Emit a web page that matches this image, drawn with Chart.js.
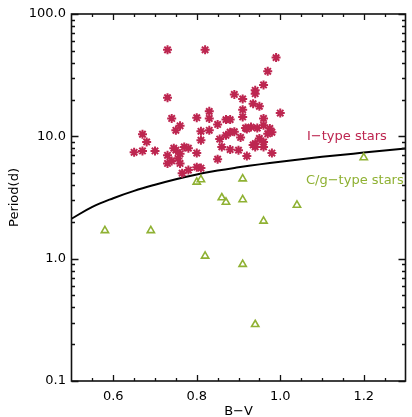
<!DOCTYPE html>
<html>
<head>
<meta charset="utf-8">
<script src="https://cdn.jsdelivr.net/npm/chart.js@4"></script>
<style>
  html, body { margin: 0; padding: 0; background: #fff; }
  #wrap { width: 412px; height: 417px; position: relative; }
</style>
</head>
<body>
<div id="wrap"><canvas id="chart"></canvas></div>
<script>
/* ---------- data ---------- */
// I-type stars (B-V, period in days)
const iTypeBV = [0.73, 0.82, 0.99, 0.97, 0.73, 0.89, 0.91, 0.96, 0.94, 0.94, 0.935, 0.95, 1.0, 0.91,
  0.83, 0.83, 0.80, 0.74, 0.76, 0.75, 0.85, 0.87, 0.88, 0.81, 0.83, 0.91, 0.93, 0.92, 0.945, 0.96,
  0.96, 0.975, 0.98, 0.97, 0.88, 0.89, 0.87, 0.855, 0.95, 0.94, 0.96, 0.935, 0.81, 0.67, 0.68, 0.65,
  0.67, 0.70, 0.73, 0.73, 0.75, 0.76, 0.755, 0.76, 0.77, 0.765, 0.78, 0.80, 0.80, 0.81, 0.85, 0.86,
  0.88, 0.90, 0.92, 0.98, 0.94, 0.96, 0.78, 0.745, 0.74, 0.905, 0.917];
const iTypeP = [51, 51, 44, 34, 20.7, 22, 20.2, 26.3, 23.8, 22.3, 18.5, 17.6, 15.5, 16.5,
  16.0, 14.0, 14.2, 14, 12.2, 11.2, 12.5, 13.7, 13.7, 11.0, 11.2, 14.4, 11.9, 11.5, 11.7, 14.0,
  12.3, 11.6, 10.8, 10.5, 10.8, 10.9, 10.2, 9.5, 9.6, 8.7, 9.0, 8.5, 9.3, 10.4, 9.0, 7.4,
  7.6, 7.6, 7.0, 6.0, 7.7, 7.2, 6.6, 6.0, 8.2, 5.0, 5.3, 7.3, 5.6, 5.5, 6.5, 8.2,
  7.8, 7.7, 6.9, 7.3, 8.2, 8.2, 8.0, 8.0, 6.3, 9.8, 11.7];

// C/g-type stars
const cgTypeBV = [0.58, 0.69, 0.80, 0.81, 0.82, 0.86, 0.87, 0.91, 0.91, 0.91, 0.94, 0.96, 1.04, 1.20];
const cgTypeP  = [1.70, 1.70, 4.23, 4.43, 1.05, 3.15, 2.90, 4.50, 3.04, 0.90, 0.29, 2.03, 2.74, 6.70];

// dividing curve
const curveBV = [0.50, 0.55, 0.60, 0.65, 0.70, 0.75, 0.80, 0.85, 0.90, 0.95, 1.00, 1.05, 1.10, 1.15, 1.20, 1.25, 1.30];
const curveP  = [2.12, 2.65, 3.12, 3.58, 4.02, 4.46, 4.88, 5.25, 5.58, 5.90, 6.20, 6.50, 6.80, 7.08, 7.36, 7.65, 7.95];

// axis ticks
const xMajorTicks = [0.6, 0.8, 1.0, 1.2];
const yMajorTicks = [0.1, 1, 10, 100];
const yTickLabels = ['0.1', '1.0', '10.0', '100.0'];

const RED = '#bd2650';
const GREEN = '#8fb133';
const FONT = "'DejaVu Sans', sans-serif";

const pts = (xs, ys) => xs.map((x, i) => ({ x: x, y: ys[i] }));

/* ---------- inward ticks, frame and in-plot labels ---------- */
const idlFrame = {
  id: 'idlFrame',
  afterDatasetsDraw(chart) {
    const { ctx, chartArea: a, scales: { x, y } } = chart;
    ctx.save();
    ctx.strokeStyle = '#111';
    ctx.lineWidth = 1.3;
    ctx.beginPath();
    // x ticks, bottom and top
    for (let k = 11; k <= 25; k++) {
      const v = k * 0.05;
      const major = xMajorTicks.some(t => Math.abs(t - v) < 1e-6);
      const len = major ? 6 : 3;
      const px = Math.round(x.getPixelForValue(v)) + 0.5;
      ctx.moveTo(px, a.bottom); ctx.lineTo(px, a.bottom - len);
      ctx.moveTo(px, a.top); ctx.lineTo(px, a.top + len);
    }
    // y ticks, left and right
    for (let d = 0.1; d < 100; d *= 10) {
      for (let m = 1; m <= 10; m++) {
        const v = d * m;
        const major = m === 1 || m === 10;
        const len = major ? 7 : 3.5;
        const py = Math.round(y.getPixelForValue(v)) + 0.5;
        ctx.moveTo(a.left, py); ctx.lineTo(a.left + len, py);
        ctx.moveTo(a.right, py); ctx.lineTo(a.right - len, py);
      }
    }
    ctx.stroke();
    ctx.lineWidth = 1.6;
    ctx.strokeRect(a.left, a.top, a.right - a.left, a.bottom - a.top);

    ctx.font = '13px ' + FONT;
    ctx.textBaseline = 'middle';
    ctx.fillStyle = RED;
    ctx.fillText('I\u2212type stars', 307, 137);
    ctx.fillStyle = GREEN;
    ctx.fillText('C/g\u2212type stars', 306, 181);
    ctx.restore();
  }
};

new Chart(document.getElementById('chart'), {
  type: 'scatter',
  data: {
    datasets: [
      {
        label: 'curve',
        type: 'line',
        data: pts(curveBV, curveP),
        borderColor: '#000',
        borderWidth: 2,
        pointRadius: 0,
        tension: 0.4,
        order: 3
      },
      {
        label: 'I-type stars',
        data: pts(iTypeBV, iTypeP),
        pointStyle: 'star',
        pointRadius: 4.5,
        borderColor: RED,
        backgroundColor: RED,
        borderWidth: 2,
        order: 1
      },
      {
        label: 'C/g-type stars',
        data: pts(cgTypeBV, cgTypeP),
        pointStyle: 'triangle',
        pointRadius: 4.2,
        borderColor: GREEN,
        backgroundColor: 'rgba(0,0,0,0)',
        borderWidth: 1.6,
        order: 2
      }
    ]
  },
  options: {
    responsive: true,
    maintainAspectRatio: false,
    animation: false,
    layout: { padding: { top: 14, right: 1, left: 0, bottom: 0 } },
    plugins: {
      legend: { display: false },
      tooltip: { enabled: false }
    },
    scales: {
      x: {
        type: 'linear',
        min: 0.5,
        max: 1.3,
        afterBuildTicks: (s) => { s.ticks = xMajorTicks.map(v => ({ value: v })); },
        afterFit: (s) => { s.height = 36; },
        grid: { display: false, drawTicks: false },
        border: { display: false },
        ticks: {
          padding: 8,
          color: '#000',
          font: { family: FONT, size: 13 },
          callback: (v) => Number(v).toFixed(1)
        },
        title: {
          display: true,
          text: 'B\u2212V',
          color: '#000',
          font: { family: FONT, size: 13, lineHeight: 1 },
          padding: { top: 0, bottom: -1 }
        }
      },
      y: {
        type: 'logarithmic',
        min: 0.1,
        max: 100,
        afterBuildTicks: (s) => { s.ticks = yMajorTicks.map(v => ({ value: v })); },
        afterFit: (s) => { s.width = 71.5; },
        grid: { display: false, drawTicks: false },
        border: { display: false },
        ticks: {
          padding: 5.5,
          color: '#000',
          font: { family: FONT, size: 13 },
          callback: (v) => yTickLabels[yMajorTicks.indexOf(v)]
        },
        title: {
          display: true,
          text: 'Period(d)',
          color: '#000',
          font: { family: FONT, size: 13, lineHeight: 1 },
          padding: { top: 8.5, bottom: 0 }
        }
      }
    }
  },
  plugins: [idlFrame]
});
</script>
</body>
</html>
